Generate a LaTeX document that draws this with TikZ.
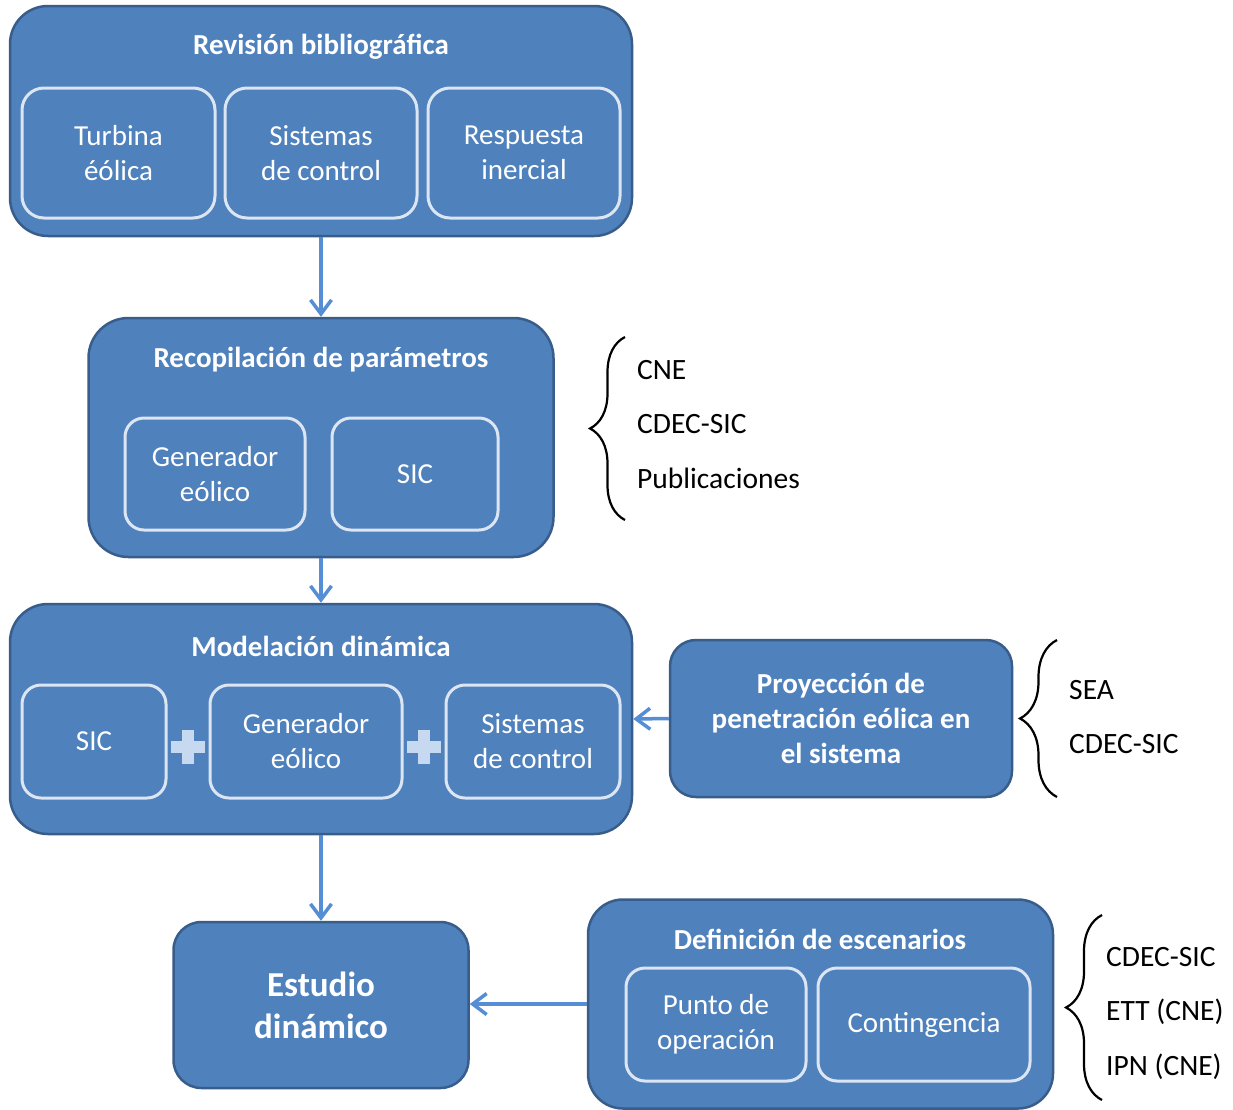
\documentclass[tikz,border=0pt]{standalone}
\usepackage{fontspec}
\setmainfont{Carlito}
\usetikzlibrary{
    arrows.meta,
    decorations.pathreplacing,
    positioning,
}
\definecolor{boxblue}{HTML}{4F81BD}
\definecolor{boxedge}{HTML}{385D8A}
\definecolor{inedge}{HTML}{DCE6F2}
\definecolor{arrowblue}{HTML}{558ED5}
\definecolor{plusblue}{HTML}{C6D9F1}
\tikzstyle{block}=[draw=boxedge,fill=boxblue,line width=2.5pt,rectangle]
\tikzstyle{inbox}=[draw=inedge,fill=boxblue,line width=3pt,rectangle,text=white,align=center,font=\fontsize{29}{35}\selectfont]
\tikzstyle{title}=[text=white,align=center,font=\bfseries\fontsize{29}{35}\selectfont]
\tikzstyle{src}=[anchor=base west,inner sep=0pt,font=\fontsize{29.5}{30}\selectfont]
\tikzstyle{flow}=[draw=arrowblue,line width=3.5pt,-{Straight Barb[length=14pt,width=21pt]}]
\tikzstyle{plus}=[fill=plusblue]
\tikzstyle{curly}=[draw,line width=2.2pt,decorate,decoration={brace}]

\begin{document}
\begin{tikzpicture}[x=1pt,y=-1pt]
                \useasboundingbox (0,0) rectangle (1233,1109);
                % revision
                \node[block,minimum width=622,minimum height=230,rounded corners=38] (rev) at (321,121) {};
                \node[title] (revt) at (321,47) {Revisión bibliográfica};
                \node[inbox,minimum width=193,minimum height=130,rounded corners=22] (turb) at (118.5,153) {Turbina\\éólica};
                \node[inbox,minimum width=192,minimum height=130,rounded corners=22] (ctrl) at (321,153) {Sistemas\\de control};
                \node[inbox,minimum width=192,minimum height=130,rounded corners=22] (resp) at (524,153) {Respuesta\\inercial};
                % parametros
                \node[block,minimum width=465,minimum height=239,rounded corners=40] (rec) at (321,437.5) {};
                \node[title] (rect) at (321,360) {Recopilación de parámetros};
                \node[inbox,minimum width=180,minimum height=112,rounded corners=19] (gen) at (215,474) {Generador\\eólico};
                \node[inbox,minimum width=166,minimum height=112,rounded corners=19] (sic) at (415,474) {SIC};
                % modelacion
                \node[block,minimum width=622,minimum height=230,rounded corners=38] (mod) at (321,719) {};
                \node[title] (modt) at (321,646) {Modelación dinámica};
                \node[inbox,minimum width=144,minimum height=113,rounded corners=19] (sicm) at (94,741.5) {SIC};
                \node[inbox,minimum width=192,minimum height=113,rounded corners=19] (genm) at (306,741.5) {Generador\\eólico};
                \node[inbox,minimum width=174,minimum height=113,rounded corners=19] (ctrlm) at (533,741.5) {Sistemas\\de control};
                \foreach \px in {188,424}{
                    \fill[plus] (\px-17,741) rectangle (\px+17,753);
                    \fill[plus] (\px-6,730) rectangle (\px+6,764);
                }
                % proyeccion
                \node[block,minimum width=342,minimum height=157,rounded corners=26,text=white,align=center,font=\bfseries\fontsize{29}{35}\selectfont] (proy) at (841,718.5) {Proyección de\\penetración eólica en\\el sistema};
                % estudio
                \node[block,minimum width=295,minimum height=166,rounded corners=28,text=white,align=center,font=\bfseries\fontsize{35}{42}\selectfont] (est) at (321,1005) {Estudio\\dinámico};
                % escenarios
                \node[block,minimum width=465,minimum height=209,rounded corners=35] (esc) at (820.5,1004) {};
                \node[title] (esct) at (820,939) {Definición de escenarios};
                \node[inbox,minimum width=180,minimum height=113,rounded corners=19] (punto) at (716,1024.5) {Punto de\\operación};
                \node[inbox,minimum width=212,minimum height=113,rounded corners=19] (cont) at (924,1024.5) {Contingencia};
                % flechas
                \draw[flow] (rev.south) -- (rec.north);
                \draw[flow] (rec.south) -- (mod.north);
                \draw[flow] (mod.south) -- (est.north);
                \draw[flow] (proy.west) -- (mod.east);
                \draw[flow] (esc.west) -- (esc.west -| est.east);
                % fuentes
                \draw[curly,decoration={amplitude=35pt}] (625,520) -- (625,337);
                \node[src] (cne) at (637,379) {CNE};
                \node[src] (cdec) at (637,433) {CDEC-SIC};
                \node[src] (publ) at (637,488) {Publicaciones};
                \draw[curly,decoration={amplitude=37pt}] (1057,797) -- (1057,640);
                \node[src] (sea) at (1069,699) {SEA};
                \node[src] (cdecp) at (1069,753) {CDEC-SIC};
                \draw[curly,decoration={amplitude=36pt}] (1102,1100) -- (1102,915);
                \node[src] (cdece) at (1106,966) {CDEC-SIC};
                \node[src] (ett) at (1106,1020) {ETT (CNE)};
                \node[src] (ipn) at (1106,1075) {IPN (CNE)};
\end{tikzpicture}
\end{document}
